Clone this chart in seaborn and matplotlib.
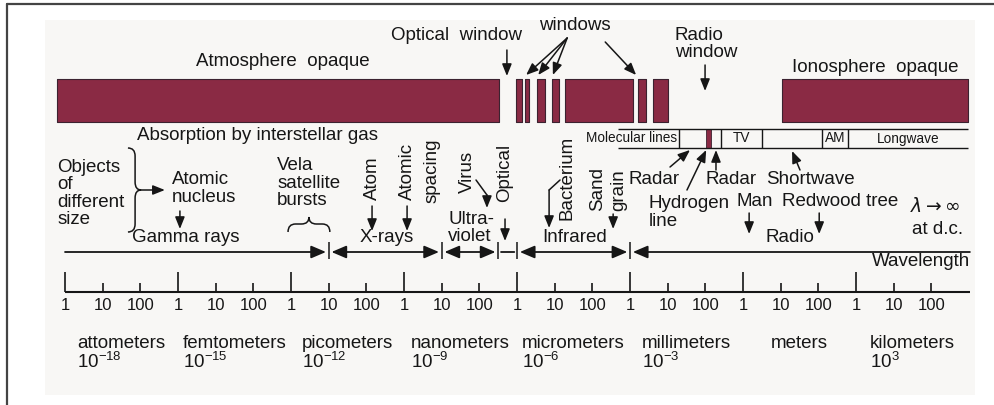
import numpy as np
import matplotlib
matplotlib.use('Agg')
import matplotlib.pyplot as plt
from matplotlib.path import Path
from matplotlib.patches import PathPatch, Rectangle
from matplotlib.lines import Line2D
import seaborn as sns

# === Data (x in log10 of wavelength in meters)
opaque_lo = [-18.21, -6.03, -5.79, -5.47, -5.07, -4.73, -2.79, -2.39, 1.03]
opaque_hi = [-6.48, -5.87, -5.68, -5.26, -4.89, -2.92, -2.58, -1.99, 5.97]

band_edges = [-18, -11, -8, -6.5, -6, -3, 6.02]
band_arrows = ['-|>', '<|-|>', '<|-|>', '-', '<|-|>', '<|-']

use_names = ['', '', 'TV', '', 'AM', 'Longwave']
use_edges = [-3.32, -1.70, -0.59, 0.50, 2.10, 2.79, 5.97]
hydrogen_line = [-0.98, -0.85]

decades = np.arange(-18, 6)
unit_names = ['attometers', 'femtometers', 'picometers', 'nanometers',
              'micrometers', 'millimeters', 'meters', 'kilometers']
unit_exp = [-18, -15, -12, -9, -6, -3, 0, 3]

# === Style
sns.set_theme(style='white')
plt.rcParams['font.family'] = ['Liberation Sans', 'DejaVu Sans']
plt.rcParams['mathtext.fontset'] = 'custom'
plt.rcParams['mathtext.rm'] = 'Liberation Sans'
ink = '#161616'
maroon = sns.color_palette(['#8a2a44'])[0]
FS = 13.5

fig = plt.figure(figsize=(9.94, 4.05), dpi=100)
fig.patch.set_facecolor('white')
fig.add_artist(Rectangle((45 / 994, 1 - 395 / 405), 930 / 994, 375 / 405,
                         transform=fig.transFigure, facecolor='#f8f7f5',
                         edgecolor='none', zorder=-1))
fig.add_artist(Line2D([7 / 994, 1], [1 - 4 / 405] * 2, transform=fig.transFigure, color='#444444', lw=1.6))
fig.add_artist(Line2D([7 / 994] * 2, [0, 1 - 4 / 405], transform=fig.transFigure, color='#444444', lw=1.6))

ax = fig.add_axes([0, 0, 1, 1])
ax.set_facecolor('none')
ax.set_xlim(-19.726, 6.66)
ax.set_ylim(405, 0)
ax.axis('off')


def txt(x, y, s, ha='center', va='center', size=FS, rot=0, **kw):
    return ax.text(x, y, s, ha=ha, va=va, fontsize=size, rotation=rot, color=ink, **kw)


def arr(x0, y0, x1, y1, style='-|>', hl=0.6, hw=0.24, lw=1.1, sA=0, sB=0):
    ax.annotate('', xy=(x1, y1), xytext=(x0, y0),
                arrowprops=dict(arrowstyle=f'{style},head_length={hl},head_width={hw}'
                                if style != '-' else '-',
                                color=ink, lw=lw, shrinkA=sA, shrinkB=sB))


# === Opaque bars
ax.broken_barh([(lo, hi - lo) for lo, hi in zip(opaque_lo, opaque_hi)], (79, 43),
               facecolors=maroon, edgecolors='#3b2230', linewidth=0.8)
txt(-12.21, 62, 'Atmosphere  opaque')
txt(3.50, 68, 'Ionosphere  opaque')
txt(-7.62, 35, 'Optical  window')
arr(-6.27, 50, -6.27, 76)
txt(-4.46, 26, 'windows')
for xe in [-5.76, -5.44, -5.05]:
    arr(-4.67, 38, xe, 75)
arr(-3.66, 42, -2.84, 75)
txt(-1.81, 44, 'Radio\nwindow', ha='left', linespacing=1.05)
arr(-1.01, 65, -1.01, 91)

# === Radio use table
ax.hlines([129, 148], use_edges[0], use_edges[-1], color=ink, lw=1)
ax.vlines(use_edges[1:-1], 129, 148, color=ink, lw=1)
ax.broken_barh([(hydrogen_line[0], hydrogen_line[1] - hydrogen_line[0])], (129, 19),
               facecolors=maroon, edgecolors='#3b2230', linewidth=0.6)
txt(-1.76, 138.5, 'Molecular lines', ha='right', size=9.8)
for name, a, b in zip(use_names, use_edges[:-1], use_edges[1:]):
    if name:
        txt((a + b) / 2, 138.5, name, size=9.8)

txt(-12.90, 135, 'Absorption by interstellar gas')

# === Objects of different size
txt(-18.21, 193.5, 'Objects\nof\ndifferent\nsize', ha='left', linespacing=1.05)
x0, xm, xt = -16.33, -16.14, -15.98
verts = [(x0, 148), (xm, 148), (xm, 156), (xm, 182), (xm, 190), (xt, 190),
         (xm, 190), (xm, 198), (xm, 224), (xm, 232), (x0, 232)]
codes = [Path.MOVETO, Path.CURVE3, Path.CURVE3, Path.LINETO, Path.CURVE3, Path.CURVE3,
         Path.CURVE3, Path.CURVE3, Path.LINETO, Path.CURVE3, Path.CURVE3]
ax.add_patch(PathPatch(Path(verts, codes), fill=False, ec=ink, lw=1.1))
arr(-15.98, 190, -15.35, 190)
txt(-15.16, 188.5, 'Atomic\nnucleus', ha='left', linespacing=1.05)
arr(-14.95, 211, -14.95, 229)
txt(-12.37, 183, 'Vela\nsatellite\nbursts', ha='left', linespacing=1.05)
xa, xb, rx = -12.08, -10.97, 0.2
xc = (xa + xb) / 2
verts = [(xa, 232), (xa, 224), (xa + rx, 224), (xc - rx, 224), (xc, 224), (xc, 217),
         (xc, 224), (xc + rx, 224), (xb - rx, 224), (xb, 224), (xb, 232)]
ax.add_patch(PathPatch(Path(verts, codes), fill=False, ec=ink, lw=1.1))

txt(-9.85, 200, 'Atom', rot=90, va='bottom')
arr(-9.85, 206, -9.85, 231)
txt(-8.92, 200, 'Atomic', rot=90, va='bottom')
arr(-8.92, 206, -8.92, 231)
txt(-8.26, 203, 'spacing', rot=90, va='bottom')
txt(-7.33, 193, 'Virus', rot=90, va='bottom')
ax.plot([-7.09, -6.80], [180, 195], color=ink, lw=1.1)
arr(-6.80, 195, -6.80, 208)
txt(-6.32, 202, 'Optical', rot=90, va='bottom')
arr(-6.32, 219, -6.32, 241)
txt(-4.67, 220, 'Bacterium', rot=90, va='bottom')
ax.plot([-4.86, -5.15], [180, 190], color=ink, lw=1.1)
arr(-5.15, 190, -5.15, 228)
txt(-3.85, 211, 'Sand', rot=90, va='bottom')
txt(-3.29, 211, 'grain', rot=90, va='bottom')
arr(-3.45, 214, -3.45, 229)

txt(-3.05, 180, 'Radar', ha='left')
arr(-1.94, 167, -1.41, 150)
arr(-1.49, 190, -0.98, 150)
txt(-2.50, 212.5, 'Hydrogen\nline', ha='left', linespacing=1.05)
txt(-0.32, 180, 'Radar')
arr(-0.72, 170, -0.72, 150)
txt(1.78, 180, 'Shortwave')
arr(1.51, 170, 1.30, 151)
txt(0.32, 202, 'Man')
arr(0.16, 213, 0.16, 234)
txt(2.57, 202, 'Redwood tree')
arr(2.02, 213, 2.02, 234)
txt(5.10, 207, r'$\lambda \rightarrow \infty$', math_fontfamily='dejavusans')
txt(5.15, 230, 'at d.c.')

# === Band line
txt(-14.79, 238, 'Gamma rays')
txt(-9.45, 238, 'X-rays')
txt(-7.83, 228, 'Ultra-\nviolet', ha='left', linespacing=1.05)
txt(-4.46, 238, 'Infrared')
txt(1.25, 238, 'Radio')
for i, st in enumerate(band_arrows):
    a, b = band_edges[i], band_edges[i + 1]
    sa = 0 if i == 0 else 2
    sb = 0 if i == len(band_arrows) - 1 else 2
    arr(a, 252, b, 252, style=st, hl=0.75, hw=0.32, lw=1.3, sA=sa, sB=sb)
ax.vlines(band_edges[1:-1], 242, 259, color=ink, lw=1.1)
txt(6.02, 262, 'Wavelength', ha='right')

# === Wavelength scale
ax.hlines(292, decades[0], 6.02, color=ink, lw=1.5)
for d in decades:
    k = (d + 18) % 3
    ax.vlines(d, 272 if k == 0 else 283, 292, color=ink, lw=1.2)
    txt(d, 306, str(10 ** k), size=12)

fig.canvas.draw()
inv = ax.transData.inverted()
for name, e, d in zip(unit_names, unit_exp, decades[::3]):
    t = txt(d + 1.5, 343, name)
    if e != 0:
        bb = t.get_window_extent()
        xl = inv.transform((bb.x0, bb.y0))[0]
        txt(xl, 362, r'$\mathregular{10^{%d}}$' % e, ha='left')

fig.savefig('out.png', dpi=100)
